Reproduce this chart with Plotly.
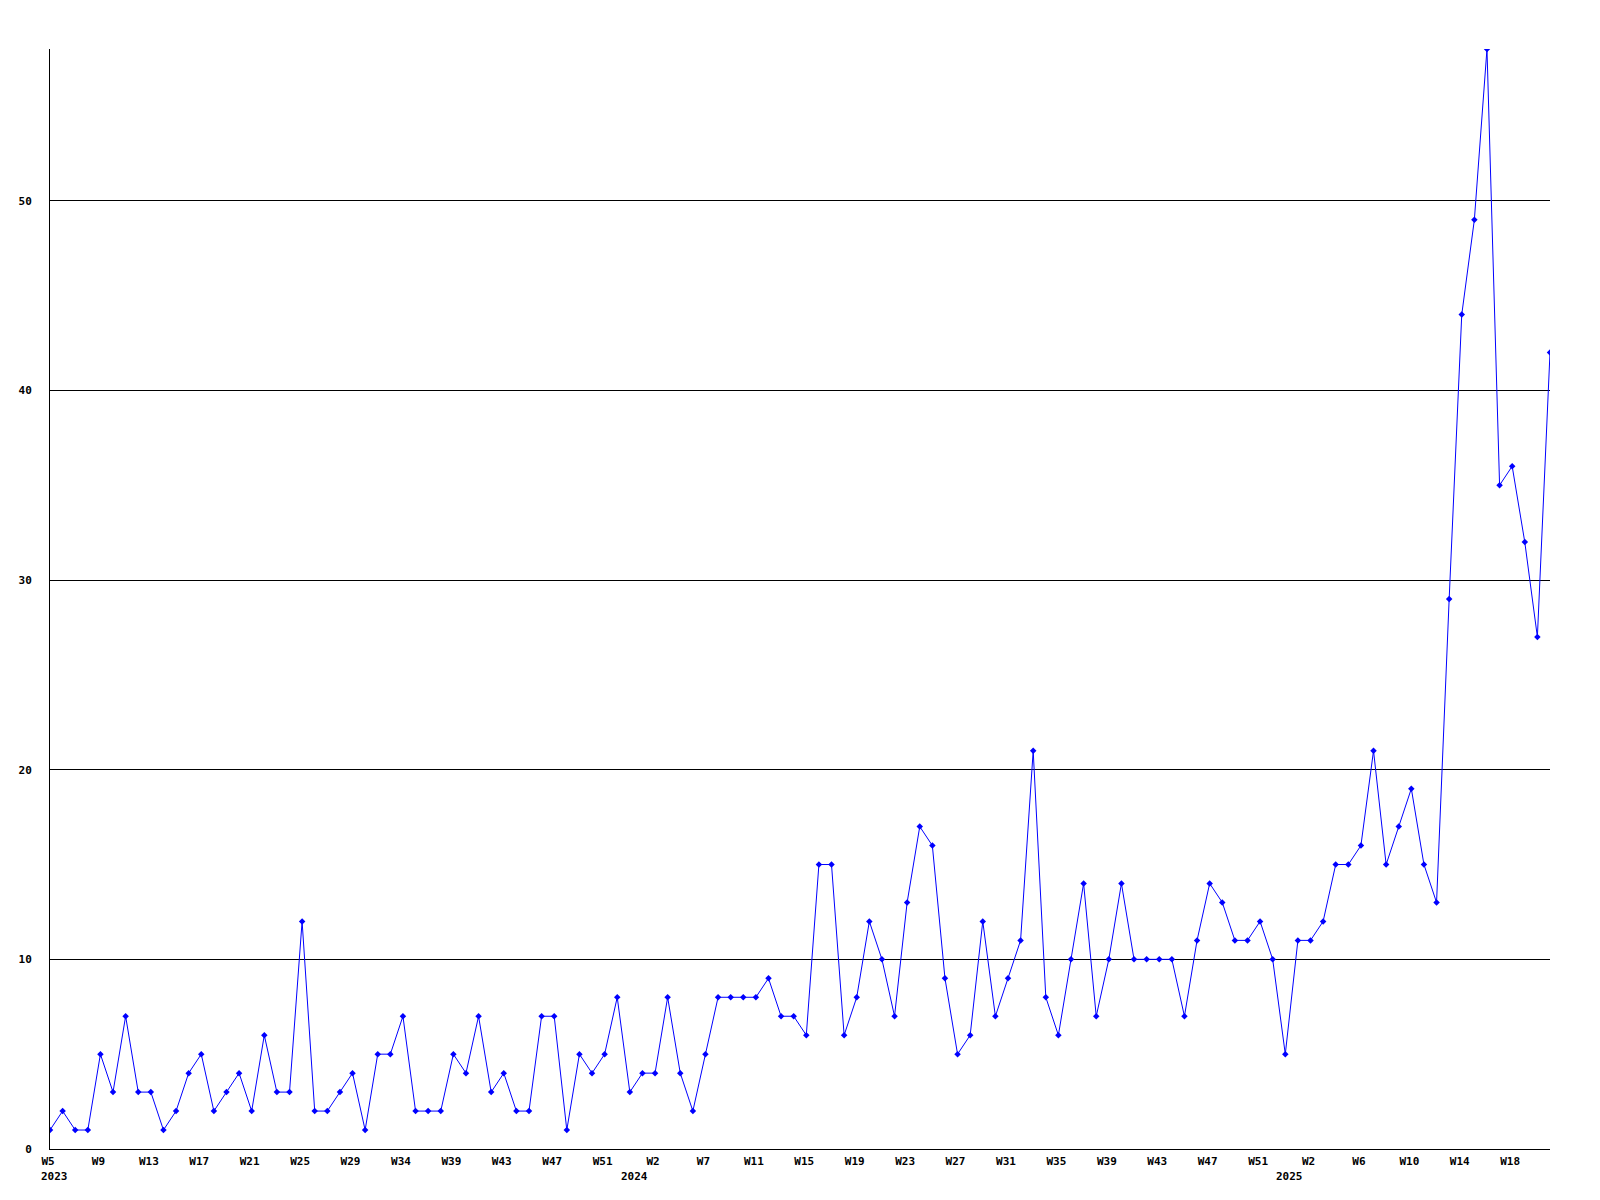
import plotly.graph_objects as go

# Weekly values, first point = W5 2023
values = [1, 2, 1, 1, 5, 3, 7, 3, 3, 1, 2, 4, 5, 2, 3, 4, 2, 6, 3, 3, 12, 2, 2, 3, 4, 1, 5, 5, 7, 2, 2,
          2, 5, 4, 7, 3, 4, 2, 2, 7, 7, 1, 5, 4, 5, 8, 3, 4, 4, 8, 4, 2, 5, 8, 8, 8, 8, 9, 7, 7, 6,
          15, 15, 6, 8, 12, 10, 7, 13, 17, 16, 9, 5, 6, 12, 7, 9, 11, 21, 8, 6, 10, 14, 7, 10, 14, 10, 10, 10, 10, 7,
          11, 14, 13, 11, 11, 12, 10, 5, 11, 11, 12, 15, 15, 16, 21, 15, 17, 19, 15, 13,
          29, 44, 49, 58, 35, 36, 32, 27, 42]

tick_labels = ["W5", "W9", "W13", "W17", "W21", "W25", "W29", "W34", "W39", "W43", "W47", "W51",
               "W2", "W7", "W11", "W15", "W19", "W23", "W27", "W31", "W35", "W39", "W43", "W47", "W51",
               "W2", "W6", "W10", "W14", "W18"]
tick_every = 4

year_labels = ["2023", "2024", "2025"]
year_start_index = [0, 46, 98]

y_ticks = [0, 10, 20, 30, 40, 50]

x = list(range(len(values)))
tickvals = [i * tick_every for i in range(len(tick_labels))]

FONT = dict(family="DejaVu Sans Mono", size=11, color="black", weight="bold")

fig = go.Figure()
fig.add_trace(go.Scatter(
    x=x, y=values, mode="lines+markers",
    line=dict(color="#0000ff", width=1),
    marker=dict(color="#0000ff", symbol="diamond", size=5, line=dict(width=0)),
    hoverinfo="x+y", showlegend=False,
))

for lbl, idx in zip(year_labels, year_start_index):
    fig.add_annotation(x=idx, y=0, xref="x", yref="paper", text=lbl, showarrow=False,
                       yanchor="top", xanchor="left", xshift=-11, yshift=-19, font=FONT)

fig.update_layout(
    width=1592, height=1192,
    margin=dict(l=42, r=50, t=41, b=51),
    paper_bgcolor="white", plot_bgcolor="white",
    xaxis=dict(range=[0, len(values) - 1], tickvals=tickvals, ticktext=tick_labels,
               showgrid=False, zeroline=False, showline=True, linecolor="black", linewidth=1,
               ticks="", tickfont=FONT, tickangle=0, ticklabelstandoff=2, ticklabelshift=-2),
    yaxis=dict(range=[0, max(values)], tickvals=y_ticks, showgrid=True, gridcolor="black",
               gridwidth=1, zeroline=False, showline=True, linecolor="black", linewidth=1,
               ticks="", tickfont=FONT, ticklabelstandoff=15),
)

fig.write_html("out.html")
